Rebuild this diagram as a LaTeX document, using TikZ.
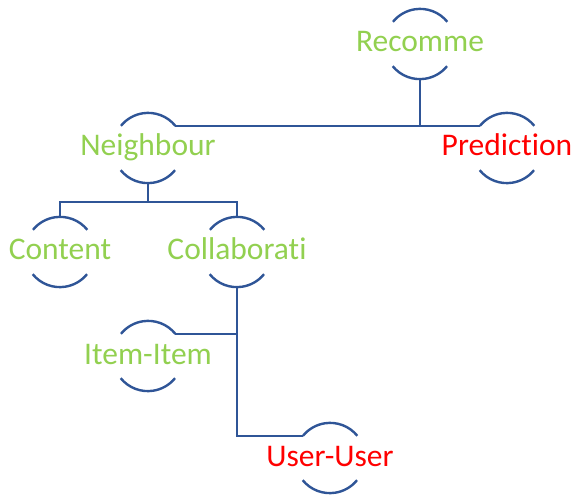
\documentclass[tikz,border=0pt]{standalone}
\usepackage{fontspec}
\setmainfont{Carlito}[Ligatures=NoCommon]
\usetikzlibrary{positioning}
\definecolor{linkblue}{HTML}{2F5597}
\definecolor{leafgreen}{HTML}{92D050}
\definecolor{leafred}{HTML}{FF0000}
\begin{document}
\begin{tikzpicture}[
	x=1pt, y=-1pt,
	link/.style = {draw=linkblue, line width=2.4pt},
	ring/.style = {circle, draw=none, minimum size=70pt, inner sep=0pt},
	gtxt/.style = {anchor=base, text=leafgreen, font=\fontsize{31.5}{36}\selectfont, inner sep=0pt},
	rtxt/.style = {gtxt, text=leafred},
	]
	\useasboundingbox (0,0) rectangle (574,500);
	% rings
	\node[ring] (rec) at (420,44)  {};
	\node[ring] (nei) at (148,148) {};
	\node[ring] (pre) at (507,148) {};
	\node[ring] (con) at (60,252)  {};
	\node[ring] (col) at (237,252) {};
	\node[ring] (itm) at (148,356) {};
	\node[ring] (usr) at (330,458) {};
	\foreach \n in {rec,nei,pre,con,col,itm,usr}
	{
		\draw[link] (\n.39) arc[start angle=39, end angle=141, radius=35pt];
		\draw[link] (\n.219) arc[start angle=219, end angle=321, radius=35pt];
	}
	% texts
	\node[gtxt] (recT) at ([yshift=-8pt]rec.center) {Recomme};
	\node[gtxt] (neiT) at ([yshift=-8pt]nei.center) {Neighbour};
	\node[rtxt] (preT) at ([yshift=-8pt]pre.center) {Prediction};
	\node[gtxt] (conT) at ([yshift=-8pt]con.center) {Content};
	\node[gtxt] (colT) at ([yshift=-8pt]col.center) {Collaborati};
	\node[gtxt] (itmT) at ([yshift=-8pt]itm.center) {Item-Item};
	\node[rtxt] (usrT) at ([yshift=-8pt]usr.center) {User-User};
	% connectors
	\draw[link] (nei.39) -- (pre.141);
	\draw[link] (rec.south) -- (rec.south |- nei.39);
	\draw[link] (nei.south) -- +(0,19) coordinate (nb);
	\draw[link] (con.north) |- (nb) -| (col.north);
	\draw[link] (col.south) |- (usr.141);
	\draw[link] (itm.39) -| (col.south);
\end{tikzpicture}
\end{document}
